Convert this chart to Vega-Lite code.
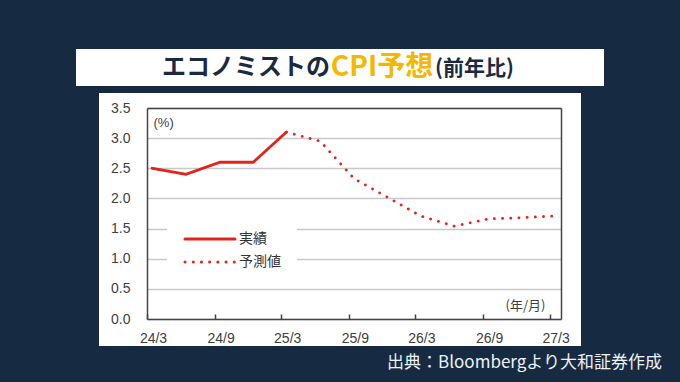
{
  "$schema": "https://vega.github.io/schema/vega-lite/v6.json",
  "background": "#162b42",
  "padding": {"left": 76, "top": 49, "right": 24, "bottom": 20},
  "config": {"view": {"stroke": null, "fill": "white"}, "font": "Noto Sans CJK JP"},
  "title": {"text": "出典：Bloombergより大和証券作成", "orient": "bottom", "anchor": "end", "font": "Noto Sans CJK JP", "fontSize": 17, "fontWeight": "normal", "color": "#eef2f7", "offset": 9, "dx": 58},
  "spacing": 7,
  "center": true,
  "bounds": "flush",
  "vconcat": [
    {
      "width": 528,
      "height": 37,
      "view": {"fill": "white", "stroke": null},
      "data": {"values": [{"a": "エコノミストの", "b": "CPI予想", "c": "(前年比)"}]},
      "layer": [
        {"mark": {"type": "rect", "color": "white"}, "encoding": {}},
        {"mark": {"type": "text", "align": "right", "baseline": "middle", "x": 254, "y": 19, "font": "Noto Sans CJK JP", "fontSize": 24, "fontWeight": "bold", "color": "#1b2b3f"}, "encoding": {"text": {"field": "a"}}},
        {"mark": {"type": "text", "align": "center", "baseline": "middle", "x": 306, "y": 19, "font": "Noto Sans CJK JP", "fontSize": 28, "fontWeight": "bold", "color": "#f5b800"}, "encoding": {"text": {"field": "b"}}},
        {"mark": {"type": "text", "align": "left", "baseline": "middle", "x": 359, "y": 20, "font": "Noto Sans CJK JP", "fontSize": 21, "fontWeight": "bold", "color": "#1b2b3f"}, "encoding": {"text": {"field": "c"}}}
      ]
    },
    {
      "width": 482,
      "height": 253,
      "data": {"values": [
        {"date": "2024-03-15", "value": 2.5, "series": "実績"},
        {"date": "2024-06-15", "value": 2.4, "series": "実績"},
        {"date": "2024-09-15", "value": 2.6, "series": "実績"},
        {"date": "2024-12-15", "value": 2.6, "series": "実績"},
        {"date": "2025-03-15", "value": 3.1, "series": "実績"},
        {"date": "2025-03-15", "value": 3.1, "series": "予測値"},
        {"date": "2025-06-15", "value": 2.95, "series": "予測値"},
        {"date": "2025-09-15", "value": 2.33, "series": "予測値"},
        {"date": "2025-12-15", "value": 2.02, "series": "予測値"},
        {"date": "2026-03-15", "value": 1.71, "series": "予測値"},
        {"date": "2026-06-15", "value": 1.54, "series": "予測値"},
        {"date": "2026-09-15", "value": 1.66, "series": "予測値"},
        {"date": "2026-12-15", "value": 1.68, "series": "予測値"},
        {"date": "2027-03-15", "value": 1.71, "series": "予測値"}
      ]},
      "resolve": {"axis": {"x": "independent", "y": "independent"}},
      "layer": [
        {
          "mark": {"type": "line", "strokeWidth": 2.8, "strokeCap": "round"},
          "encoding": {
            "x": {
              "field": "date", "type": "temporal",
              "scale": {"type": "utc", "domain": [{"year": 2024, "month": 3, "date": 1, "utc": true}, {"year": 2027, "month": 4, "date": 1, "utc": true}], "range": [48, 462]},
              "axis": {
                "orient": "bottom", "offset": -27,
                "values": [
                  {"year": 2024, "month": 3, "date": 1, "utc": true},
                  {"year": 2024, "month": 9, "date": 1, "utc": true},
                  {"year": 2025, "month": 3, "date": 1, "utc": true},
                  {"year": 2025, "month": 9, "date": 1, "utc": true},
                  {"year": 2026, "month": 3, "date": 1, "utc": true},
                  {"year": 2026, "month": 9, "date": 1, "utc": true},
                  {"year": 2027, "month": 3, "date": 1, "utc": true}
                ],
                "labelExpr": "utcFormat(datum.value, '%y/%-m')",
                "tickSize": -5, "tickColor": "#444444", "tickWidth": 1.5,
                "labelPadding": 17, "labelOffset": 6, "labelFlush": false, "labelOverlap": false, "labelBound": false,
                "labelFont": "Liberation Sans", "labelFontSize": 14, "labelColor": "#404040",
                "domainColor": "#444444", "domainWidth": 1.5, "grid": false,
                "title": "(年/月)", "titleX": 426, "titleY": -14, "titleAlign": "center", "titleBaseline": "middle",
                "titleFont": "Noto Sans CJK JP", "titleFontSize": 13, "titleFontWeight": "normal", "titleColor": "#404040"
              }
            },
            "y": {
              "field": "value", "type": "quantitative",
              "scale": {"domain": [0, 3.5], "range": [226, 15], "nice": false, "zero": false},
              "axis": {
                "orient": "left", "offset": -48,
                "values": [0, 0.5, 1, 1.5, 2, 2.5, 3, 3.5], "format": ".1f",
                "ticks": false, "labelPadding": 17,
                "labelFont": "Liberation Sans", "labelFontSize": 14, "labelColor": "#404040",
                "domainColor": "#444444", "domainWidth": 1.5,
                "grid": true, "gridColor": "#c9c9c9", "gridWidth": 1.5,
                "title": "(%)", "titleAngle": 0, "titleX": 6, "titleY": 29, "titleAlign": "left", "titleBaseline": "middle",
                "titleFont": "Liberation Sans", "titleFontSize": 13, "titleFontWeight": "normal", "titleColor": "#404040"
              }
            },
            "color": {
              "field": "series", "type": "nominal",
              "scale": {"domain": ["実績", "予測値"], "range": ["#e3241b", "#e3241b"]},
              "legend": {
                "orient": "none", "legendX": 91, "legendY": 167, "title": null,
                "fillColor": "white", "padding": 16,
                "symbolType": "M-1,0H9", "symbolSize": 100, "symbolStrokeWidth": 3,
                "labelOffset": 42, "labelFont": "Noto Sans CJK JP", "labelFontSize": 14, "labelColor": "#333333",
                "rowPadding": 9,
                "encode": {"symbols": {"update": {"strokeCap": {"value": "round"}}}}
              }
            },
            "strokeDash": {
              "field": "series", "type": "nominal",
              "scale": {"domain": ["実績", "予測値"], "range": [[1, 0], [0.1, 8.1]]},
              "legend": {
                "orient": "none", "legendX": 91, "legendY": 167, "title": null,
                "fillColor": "white", "padding": 16,
                "symbolType": "M-1,0H9", "symbolSize": 100, "symbolStrokeWidth": 3,
                "labelOffset": 42, "labelFont": "Noto Sans CJK JP", "labelFontSize": 14, "labelColor": "#333333",
                "rowPadding": 9,
                "encode": {"symbols": {"update": {"strokeCap": {"value": "round"}}}}
              }
            }
          }
        },
        {
          "mark": {"type": "point", "opacity": 0},
          "encoding": {
            "x": {"field": "date", "type": "temporal", "axis": {"orient": "top", "offset": -15, "labels": false, "ticks": false, "grid": false, "title": null, "domainColor": "#444444", "domainWidth": 1.5}},
            "y": {"field": "value", "type": "quantitative", "axis": {"orient": "right", "offset": -20, "labels": false, "ticks": false, "grid": false, "title": null, "domainColor": "#444444", "domainWidth": 1.5}}
          }
        }
      ]
    }
  ]
}
